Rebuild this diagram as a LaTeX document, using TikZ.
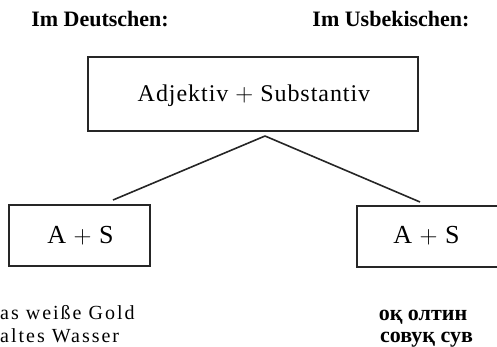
\documentclass[tikz,border=0pt]{standalone}
\usepackage{fontspec}
\setmainfont{Liberation Serif}
\newfontfamily\spacedfont[LetterSpace=4]{Liberation Serif}
\newfontfamily\widefont[LetterSpace=10]{Liberation Serif}
\begin{document}
\begin{tikzpicture}[x=1pt,y=-1pt,
  frame/.style={draw=black!85, line width=1.5pt, inner sep=0pt},
  head/.style={font=\fontsize{22}{24}\selectfont\bfseries, inner sep=0pt, anchor=base},
  boxtext/.style={font=\spacedfont\fontsize{24}{26}\selectfont, inner sep=0pt, anchor=base},
  pattern/.style={font=\spacedfont\fontsize{26}{28}\selectfont, inner sep=0pt, anchor=base},
  deline/.style={font=\widefont\fontsize{20}{22}\selectfont, inner sep=0pt, anchor=base west},
  uzline/.style={font=\fontsize{22}{24}\selectfont\bfseries, inner sep=0pt, anchor=base},
  link/.style={draw=black!85, line width=1.6pt}]
  \useasboundingbox (0,0) rectangle (497,347);

  % column headings
  \node[head] (de) at (100,27) {Im Deutschen:};
  \node[head] (uz) at (391,27) {Im Usbekischen:};

  % general pattern
  \node[frame, minimum width=330pt, minimum height=74pt] (top) at (253,94) {};
  \node[boxtext] (toptext) at (254,102) {Adjektiv $+$ Substantiv};

  % the two language-specific patterns
  \node[frame, minimum width=141pt, minimum height=61pt] (left) at (79.5,235.5) {};
  \node[pattern] (lefttext) at (80.5,243) {A $+$ S};
  \node[frame, minimum width=143pt, minimum height=61pt] (right) at (428.5,236.5) {};
  \node[pattern] (righttext) at (426.5,243) {A $+$ S};

  % branching connectors
  \coordinate (fork) at (265,136);
  \coordinate (lend) at (113,200);
  \coordinate (rend) at (420,202);
  \draw[link] (fork) -- (lend);
  \draw[link] (fork) -- (rend);

  % examples
  \node[deline] (de1) at (0,319) {as weiße Gold};
  \node[deline] (de2) at (0,342) {altes Wasser};
  \node[uzline] (uz1) at (423,320) {оқ олтин};
  \node[uzline] (uz2) at (426.5,342) {совуқ сув};
\end{tikzpicture}
\end{document}
